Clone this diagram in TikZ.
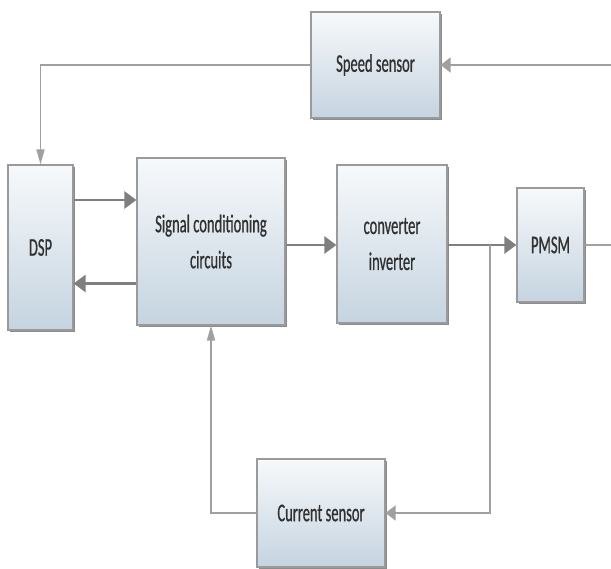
\documentclass[tikz,border=0pt]{standalone}
\usepackage{fontspec}
\setmainfont{Carlito}[FakeStretch=0.57, FakeBold=0.6]
\definecolor{blkTop}{HTML}{F7F9FB}
\definecolor{blkBottom}{HTML}{C5D4E0}
\definecolor{blkEdge}{HTML}{9A9A9A}
\definecolor{blkText}{HTML}{303030}
\definecolor{wireDark}{HTML}{7F7F7F}
\definecolor{wireLight}{HTML}{A0A0A0}
\usepackage{tikz}
\usetikzlibrary{arrows.meta, positioning, calc, shadows}

\begin{document}
\begin{tikzpicture}[x=1pt, y=-1pt,
  blk/.style={draw=blkEdge, line width=1.2pt, top color=blkTop, bottom color=blkBottom,
    align=center, text=blkText, inner sep=2pt,
    font=\fontsize{25.5}{36}\selectfont,
    drop shadow={shadow xshift=1.5pt, shadow yshift=-2.5pt, fill=black, opacity=0.45}},
  mainwire/.style={draw=wireDark, line width=2.6pt,
    -{Triangle[length=12pt, width=17pt]}},
  fbwire/.style={draw=wireLight, line width=1.8pt,
    -{Triangle[length=10pt, width=15pt]}},
  fbvert/.style={draw=wireLight, line width=1.8pt,
    -{Triangle[length=15pt, width=8pt]}},
  plainwire/.style={draw=wireLight, line width=2pt}]

  \useasboundingbox (0,0) rectangle (611,569);

  % blocks
  \node[blk, minimum width=129pt, minimum height=106pt] (speed) at (375.5,65) {Speed sensor};
  \node[blk, minimum width=65pt, minimum height=165pt] (dsp) at (40.5,247.5) {DSP};
  \node[blk, minimum width=148pt, minimum height=167pt] (sig) at (211,241.5) {Signal conditioning\\circuits};
  \node[blk, minimum width=110pt, minimum height=158pt] (conv) at (392,244) {converter\\inverter};
  \node[blk, minimum width=67pt, minimum height=114pt] (pmsm) at (550.5,245) {PMSM};
  \node[blk, minimum width=128pt, minimum height=108pt] (cur) at (321,513) {Current sensor};

  % free ends and branch point
  \coordinate (spdIn) at (611,65);
  \coordinate (shaft) at (611,245);
  \coordinate (tap) at (490,245);
  \coordinate (dspOut) at ([yshift=47.5pt]dsp.east);
  \coordinate (sigBack) at ([yshift=-42pt]sig.west);
  \coordinate (sigOut) at ([yshift=-3.5pt]sig.east);

  % forward path
  \draw[mainwire] (dspOut) -- (sig.west |- dspOut);
  \draw[mainwire] (sigBack) -- (dsp.east |- sigBack);
  \draw[mainwire] (sigOut) -- (conv.west |- sigOut);
  \draw[mainwire] (conv.east |- pmsm.west) -- (pmsm.west);
  \draw[plainwire] (pmsm.east) -- (shaft);

  % feedback loops
  \draw[fbwire] (spdIn) -- (speed.east);
  \draw[fbvert] (speed.west) -| (dsp.north);
  \draw[fbwire] (tap) |- (cur.east);
  \draw[fbvert] (cur.west) -| (sig.south);
\end{tikzpicture}
\end{document}
